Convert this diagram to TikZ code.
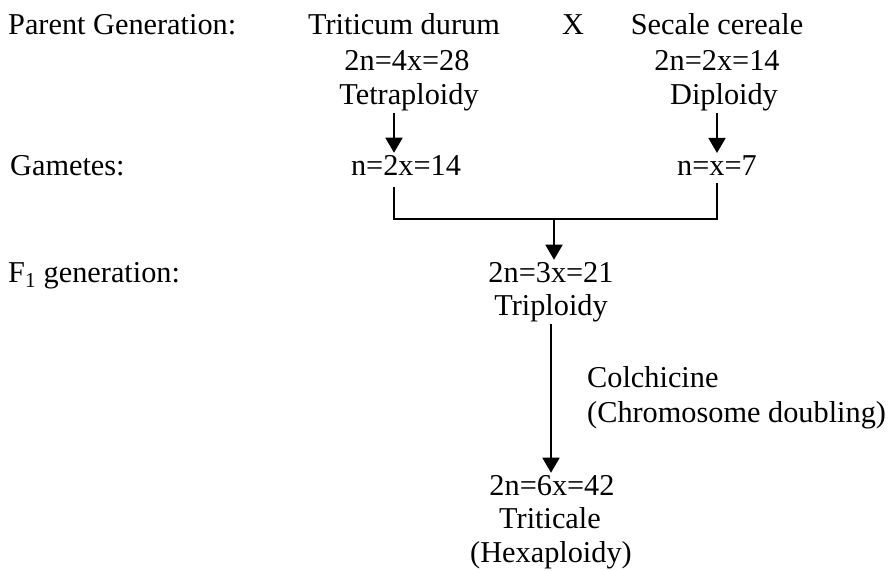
\documentclass[tikz,border=0pt]{standalone}
\usepackage{fontspec}
\setmainfont{Liberation Serif}
\usetikzlibrary{arrows.meta}

\begin{document}
\begin{tikzpicture}[x=1pt, y=-1pt,
  txt/.style={inner sep=2pt, font=\fontsize{30.3}{34}\selectfont},
  lbl/.style={txt, anchor=base west},
  val/.style={txt, anchor=base},
  arr/.style={-{Triangle[width=17pt,length=15pt]}, line width=1.8pt},
  link/.style={line width=1.8pt}
]
  \useasboundingbox (0,0) rectangle (888,570);
  % row labels
  \node[lbl] (lblParent) at (6,34) {Parent Generation:};
  \node[lbl] (lblGam) at (8,175) {Gametes:};
  \node[lbl] (lblF1) at (6,282) {F\textsubscript{1} generation:};
  % parents
  \node[val] (tdName) at (404,34) {Triticum durum};
  \node[val] (tdChr) at (407,70) {2n=4x=28};
  \node[val] (tdPloidy) at (409,104) {Tetraploidy};
  \node[val] (cross) at (573,34) {X};
  \node[val] (scName) at (717,34) {Secale cereale};
  \node[val] (scChr) at (717,70) {2n=2x=14};
  \node[val] (scPloidy) at (724,104) {Diploidy};
  % gametes
  \node[val] (gamL) at (406,175) {n=2x=14};
  \node[val] (gamR) at (717,175) {n=x=7};
  % F1 and doubling
  \node[val] (f1Chr) at (551,282) {2n=3x=21};
  \node[val] (f1Ploidy) at (551,315) {Triploidy};
  \node[lbl] (colch) at (585,387) {Colchicine};
  \node[lbl] (colchNote) at (585,422) {(Chromosome doubling)};
  \node[val] (hexChr) at (552,495) {2n=6x=42};
  \node[val] (hexName) at (550,528) {Triticale};
  \node[val] (hexPloidy) at (551,562) {(Hexaploidy)};

  \coordinate (jL) at (394,219);
  \coordinate (jR) at (717,219);
  \coordinate (jM) at (554,219);
  \draw[arr] (tdPloidy.south -| jL) -- (gamL.north -| jL);
  \draw[arr] (scPloidy.south -| jR) -- (gamR.north -| jR);
  \draw[link] ([yshift=-10pt]gamL.south -| jL) -- (jL) -- (jR) -- ([yshift=-6pt]gamR.south -| jR);
  \draw[arr] (jM) -- (f1Chr.north -| jM);
  \draw[arr] (f1Ploidy.south) -- (f1Ploidy.south |- hexChr.north);
\end{tikzpicture}
\end{document}
